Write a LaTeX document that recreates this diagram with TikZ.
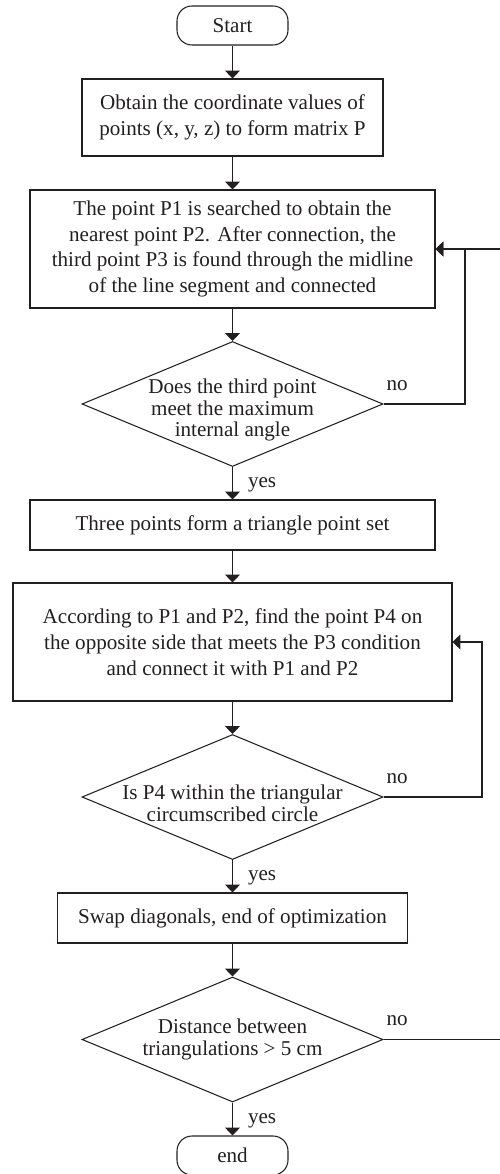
\documentclass[tikz,border=0pt]{standalone}
\usepackage{fontspec}
\setmainfont{Liberation Serif}
\usetikzlibrary{shapes.geometric,arrows.meta}
\pgfdeclarelayer{bg}
\pgfsetlayers{bg,main}
\definecolor{ink}{HTML}{231F20}
\newcommand{\lowtext}{\rule{0pt}{15.5pt}}
\tikzset{
        every node/.style={font=\fontsize{12}{14.75}\selectfont, text=ink},
        box/.style={draw=ink, line width=0.6pt, rectangle, inner sep=0pt, align=center},
        term/.style={draw=ink, line width=0.6pt, rounded corners=0.3cm, minimum width=2.22cm, minimum height=0.78cm, inner sep=0pt},
        test/.style={draw=ink, line width=0.6pt, diamond, aspect=2.4, inner sep=-6pt, minimum width=6.02cm, minimum height=2.5cm, align=center, font=\fontsize{12}{12.2}\selectfont},
        flow/.style={draw=ink, line width=0.6pt, -{Triangle[length=4.5pt,width=8.5pt]}},
        yes/.style={pos=0.5, anchor=west, inner sep=0pt, xshift=0.3cm, yshift=-0.04cm},
        no/.style={anchor=south west, inner sep=0pt, xshift=0.05cm, yshift=0.26cm}
}

\begin{document}
\begin{tikzpicture}
        \useasboundingbox (0,0) rectangle (9.98,-23.48);
        \node (s0) [term] at (4.65cm, -0.51cm) {Start};
        \node (b1) [box, minimum width=6.02cm, minimum height=1.54cm] at (4.65cm, -2.35cm) {Obtain the coordinate values of\\points (x, y, z) to form matrix P};
        \node (b2) [box, minimum width=8.10cm, minimum height=2.36cm] at (4.65cm, -4.98cm) {The point P1 is searched to obtain the\\nearest point P2. After connection, the\\third point P3 is found through the midline\\of the line segment and connected};
        \node (d1) [test] at (4.65cm, -8.08cm) {\lowtext Does the third point\\meet the maximum\\internal angle};
        \node (b3) [box, minimum width=8.10cm, minimum height=1.00cm] at (4.65cm, -10.50cm) {Three points form a triangle point set};
        \node (b4) [box, minimum width=8.78cm, minimum height=2.36cm] at (4.65cm, -12.84cm) {According to P1 and P2, find the point P4 on\\the opposite side that meets the P3 condition\\and connect it with P1 and P2};
        \node (d2) [test] at (4.65cm, -15.94cm) {\lowtext Is P4 within the triangular\\circumscribed circle};
        \node (b5) [box, minimum width=7.00cm, minimum height=1.00cm] at (4.65cm, -18.36cm) {Swap diagonals, end of optimization};
        \node (d3) [test] at (4.65cm, -20.79cm) {Distance between\\triangulations > 5 cm};
        \node (e0) [term] at (4.65cm, -23.11cm) {end};
        \coordinate (r1) at (9.30cm, 0cm);
        \coordinate (r2) at (9.64cm, 0cm);
        \coordinate (r3) at (10.60cm, 0cm);
        \begin{pgfonlayer}{bg}
                \draw (s0) edge [flow] (b1);
                \draw (b1) edge [flow] (b2);
                \draw (b2) edge [flow] (d1);
                \draw (d1) edge [flow] node [yes] {yes} (b3);
                \draw (b3) edge [flow] (b4);
                \draw (b4) edge [flow] (d2);
                \draw (d2) edge [flow] node [yes] {yes} (b5);
                \draw (b5) edge [flow] (d3);
                \draw (d3) edge [flow] node [yes] {yes} (e0);
                % loops back on the right
                \draw [flow] (d1.east) node [no] {no} -- (d1.east -| r1) |- (b2.east);
                \draw [flow] (d2.east) node [no] {no} -- (d2.east -| r2) |- (b4.east);
                \draw [flow] (d3.east) node [no] {no} -- (d3.east -| r3) |- (b2.east);
        \end{pgfonlayer}
\end{tikzpicture}
\end{document}
